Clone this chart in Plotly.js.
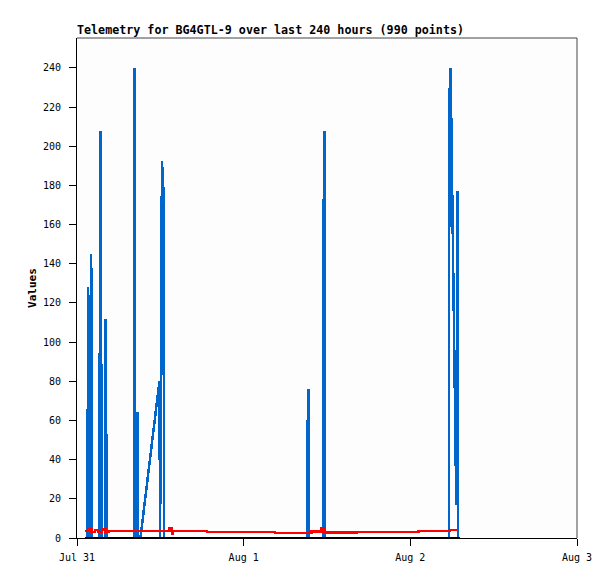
<!DOCTYPE html>
<html>
<head>
<meta charset="utf-8">
<script src="https://cdn.plot.ly/plotly-3.0.1.min.js"></script>
<style>
  html, body { margin: 0; padding: 0; background: #ffffff; }
  #chart { width: 615px; height: 579px; }
  #chart .scatterlayer path { shape-rendering: crispEdges; }
</style>
</head>
<body>
<div id="chart"></div>
<script>
// blue telemetry channel (spiky)
var blueTimes = [
  "2024-07-31 01:09", "2024-07-31 01:32", "2024-07-31 01:34", "2024-07-31 01:47", "2024-07-31 01:53", "2024-07-31 02:03", "2024-07-31 02:06",
  "2024-07-31 03:14", "2024-07-31 03:16", "2024-07-31 03:22", "2024-07-31 03:28", "2024-07-31 03:33", "2024-07-31 03:36",
  "2024-07-31 04:05", "2024-07-31 04:07", "2024-07-31 04:15", "2024-07-31 04:17",
  "2024-07-31 08:17", "2024-07-31 08:19", "2024-07-31 08:21",
  "2024-07-31 08:42", "2024-07-31 08:44", "2024-07-31 08:46",
  "2024-07-31 09:08", "2024-07-31 11:40", "2024-07-31 11:52", "2024-07-31 11:58",
  "2024-07-31 12:14", "2024-07-31 12:28", "2024-07-31 12:31",
  "2024-08-01 09:08", "2024-08-01 09:10", "2024-08-01 09:19", "2024-08-01 09:21",
  "2024-08-01 11:26", "2024-08-01 11:28", "2024-08-01 11:37", "2024-08-01 11:39",
  "2024-08-02 05:35", "2024-08-02 05:37", "2024-08-02 05:48", "2024-08-02 06:00", "2024-08-02 06:09",
  "2024-08-02 06:15", "2024-08-02 06:21", "2024-08-02 06:31", "2024-08-02 06:37", "2024-08-02 06:46",
  "2024-08-02 06:52", "2024-08-02 06:54"
];
var blueValues = [
  0, 0, 128, 112, 0, 145, 0,
  0, 80, 208, 112, 32, 0,
  0, 112, 32, 0,
  0, 240, 0,
  0, 64.5, 0,
  0, 77, 80, 0,
  192.5, 176, 0,
  0, 48.5, 76, 0,
  0, 144.5, 208, 0,
  0, 224.5, 240, 191, 156,
  121.5, 87, 52, 17, 177,
  144.5, 0
];

// red telemetry channel
var redTimes = [
  "2024-07-31 01:09", "2024-07-31 01:36", "2024-07-31 02:06", "2024-07-31 02:36", "2024-07-31 03:06",
  "2024-07-31 03:36", "2024-07-31 04:06", "2024-07-31 04:34", "2024-07-31 13:21", "2024-07-31 13:41",
  "2024-07-31 13:49", "2024-07-31 18:41", "2024-08-01 04:31", "2024-08-01 09:19", "2024-08-01 09:48",
  "2024-08-01 11:14", "2024-08-01 11:37", "2024-08-01 16:17", "2024-08-02 01:09", "2024-08-02 05:37",
  "2024-08-02 06:32"
];
var redValues = [
  3.6, 4.3, 3.0, 4.2, 3.1,
  4.3, 3.0, 3.6, 5.0, 2.4,
  3.6, 3.1, 2.6, 2.7, 3.2,
  5.0, 2.7, 3.1, 3.6, 4.1,
  4.4
];

// black telemetry channel (flat)
var blackTimes = ["2024-07-31 01:09", "2024-08-01 04:00", "2024-08-02 07:09"];
var blackValues = [0, 0, 0];

var yTickValues = [0, 20, 40, 60, 80, 100, 120, 140, 160, 180, 200, 220, 240];

var mono = "DejaVu Sans Mono, Liberation Mono, monospace";

var traces = [
  { x: blueTimes, y: blueValues, type: "scatter", mode: "lines",
    line: { color: "#0066cc", width: 2.5 }, hoverinfo: "skip" },
  { x: redTimes, y: redValues, type: "scatter", mode: "lines",
    line: { color: "#ff0000", width: 2.5, shape: "hv" }, hoverinfo: "skip" },
  { x: blackTimes, y: blackValues, type: "scatter", mode: "lines",
    line: { color: "#000000", width: 3 }, hoverinfo: "skip" }
];

var layout = {
  width: 615,
  height: 579,
  margin: { l: 77, r: 38, t: 38, b: 41 },
  paper_bgcolor: "#ffffff",
  plot_bgcolor: "#fdfdfd",
  showlegend: false,
  title: {
    text: "Telemetry for BG4GTL-9 over last 240 hours (990 points)",
    font: { family: mono, size: 11.7, color: "#000000", weight: "bold" },
    x: 0, xref: "paper", xanchor: "left",
    y: 1 - 30 / 579, yref: "container", yanchor: "middle"
  },
  xaxis: {
    type: "date",
    range: ["2024-07-31 00:00", "2024-08-03 00:00"],
    dtick: 86400000,
    tick0: "2024-07-31",
    tickformat: "%b %-d",
    showgrid: false,
    zeroline: false,
    showline: true,
    linecolor: "#000000",
    linewidth: 1,
    ticks: "outside",
    ticklen: 7,
    tickcolor: "#000000",
    ticklabelstandoff: 3,
    tickfont: { family: mono, size: 10, color: "#000000" },
    fixedrange: true
  },
  yaxis: {
    range: [0, 255.3],
    tickvals: yTickValues,
    showgrid: false,
    zeroline: false,
    showline: true,
    linecolor: "#000000",
    linewidth: 1,
    ticks: "outside",
    ticklen: 7,
    tickcolor: "#000000",
    ticklabelstandoff: 6,
    tickfont: { family: mono, size: 10, color: "#000000" },
    title: { text: "Values", font: { family: mono, size: 11, color: "#000000", weight: "bold" }, standoff: 4 },
    fixedrange: true
  },
  shapes: [
    { type: "line", xref: "paper", yref: "paper", x0: 0, x1: 1, y0: 1, y1: 1,
      line: { color: "#444444", width: 1 } },
    { type: "line", xref: "paper", yref: "paper", x0: 1, x1: 1, y0: 0, y1: 1,
      line: { color: "#444444", width: 1 } }
  ]
};

Plotly.newPlot("chart", traces, layout, { displayModeBar: false, staticPlot: true });
</script>
</body>
</html>
